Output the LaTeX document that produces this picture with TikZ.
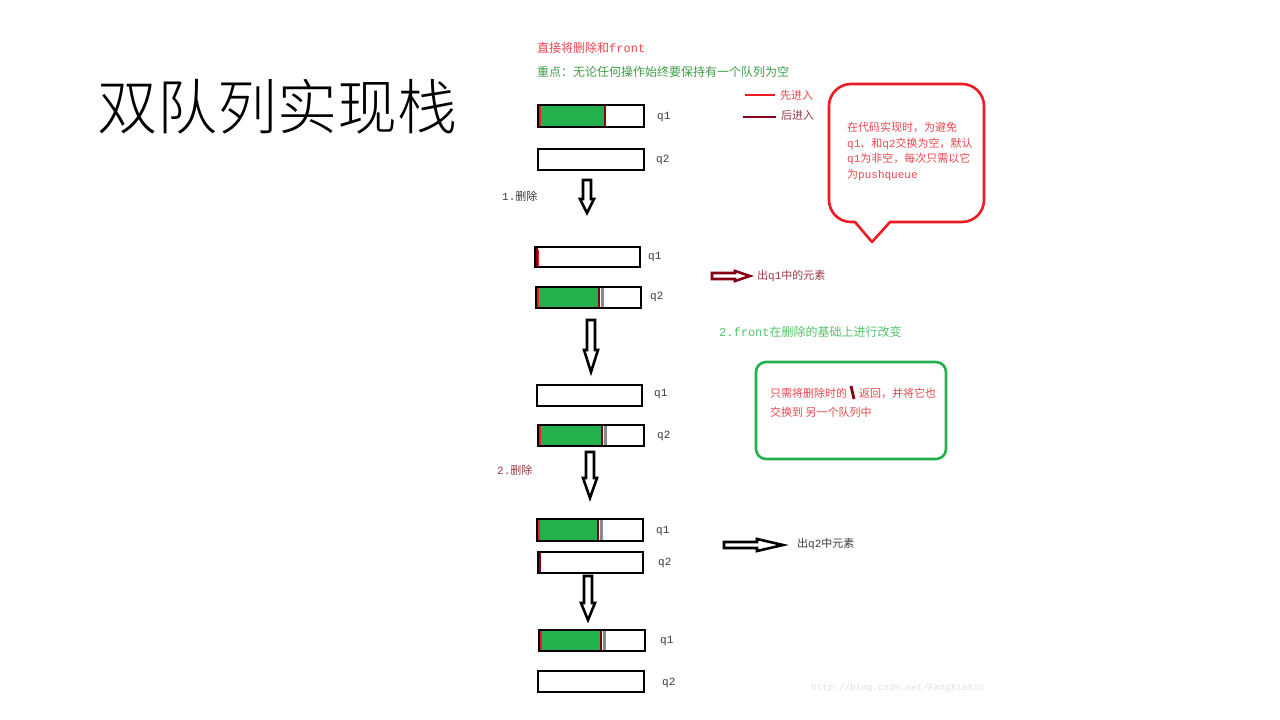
\documentclass[tikz,border=0pt]{standalone}
\usepackage{fontspec}
\setmainfont{Noto Sans CJK SC}
\newfontfamily\cjk{Noto Sans CJK SC}
\newfontfamily\cjklight{Noto Sans CJK SC Light}
\newfontfamily\lmono{Liberation Mono}
\newcommand\m[1]{{\lmono #1}}
\definecolor{qgreen}{HTML}{22B14C}
\definecolor{qred}{HTML}{ED1C24}
\definecolor{qdark}{HTML}{880015}
\definecolor{qgray}{HTML}{8A8A8A}
\definecolor{tred}{HTML}{E8474F}
\definecolor{tgreen}{HTML}{3E9E48}
\definecolor{tlgreen}{HTML}{55C46A}
\definecolor{tdred}{HTML}{9A3A44}
\definecolor{tgray}{HTML}{3A3A3A}
\newcommand\qframe[4]{\draw[line width=2.6] (#1,#2) rectangle (#3,#4);}
\newcommand\qgreenpart[5]{%
  \fill[qgreen] (#1,#2) rectangle (#5,#4);
  \draw[qred, line width=2] (#1+2,#2) -- (#1+2,#4);
  \draw[qdark, line width=2] (#5,#2) -- (#5,#4);}
\newcommand\qgraybit[3]{\draw[qgray, line width=2.2] (#1+3.5,#2) -- (#1+3.5,#3);}
\newcommand\downarr[4]{% x, ytop, ybot, headlen
  \draw[line width=2.6, line join=miter, fill=white]
   (#1-4,#2) -- (#1+4,#2) -- (#1+4,#3-#4) -- (#1+7,#3-#4) -- (#1,#3)
   -- (#1-7,#3-#4) -- (#1-4,#3-#4) -- cycle;}
\begin{document}
\begin{tikzpicture}[x=1pt,y=-1pt,
  small/.style={font=\fontsize{11}{13}\selectfont, inner sep=0pt, anchor=west},
  big/.style={font=\fontsize{12}{14}\selectfont, inner sep=0pt, anchor=west},
  qlab/.style={small, text=tgray}]
\useasboundingbox[fill=white] (0,0) rectangle (1280,720);

% title
\node[font=\cjklight\fontsize{60}{66}\selectfont, anchor=west, inner sep=0pt] (title) at (97,107) {双队列实现栈};

% top texts
\node[big, text=tred] (t1) at (537,48) {直接将删除和\m{front}};
\node[big, text=tgreen] (t2) at (537,72) {重点：无论任何操作始终要保持有一个队列为空};

% legend
\draw[qred, line width=2.4] (745,95) -- (775,95);
\node[small, text=tred] (l1) at (780,95) {先进入};
\draw[qdark, line width=2.4] (743,117) -- (776,117);
\node[small, text=tdred] (l2) at (781,115) {后进入};

% step 0
\qgreenpart{538}{105}{644}{127}{605}
\qframe{538}{105}{644}{127}
\node[qlab] (a1) at (657,117) {\m{q1}};
\qframe{538}{149}{644}{170}
\node[qlab] (a2) at (656,160) {\m{q2}};

\downarr{587}{180}{213}{14}
\node[small, text=tgray] (s1) at (502,196) {\m{1.}删除};

% step 1
\qframe{535}{247}{640}{267}
\draw[qdark, line width=2] (537,248) -- (537,266);
\draw[qred, line width=1] (538.5,250) -- (538.5,266);
\node[qlab] (b1) at (648,257) {\m{q1}};
\qgreenpart{536}{287}{641}{308}{599}
\qgraybit{599}{288}{307}
\qframe{536}{287}{641}{308}
\node[qlab] (b2) at (650,297) {\m{q2}};

\downarr{591}{320}{372}{22}

% step 2
\qframe{537}{385}{642}{406}
\node[qlab] (c1) at (654,394) {\m{q1}};
\qgreenpart{538}{425}{644}{446}{602}
\qgraybit{602}{426}{445}
\qframe{538}{425}{644}{446}
\node[qlab] (c2) at (657,436) {\m{q2}};

\downarr{590}{452}{498}{20}
\node[small, text=tdred] (s2) at (497,470) {\m{2.}删除};

% step 3
\qgreenpart{537}{519}{643}{541}{598}
\qgraybit{598}{520}{540}
\qframe{537}{519}{643}{541}
\node[qlab] (d1) at (656,531) {\m{q1}};
\draw[qdark, line width=2] (540,553) -- (540,572);
\qframe{538}{552}{643}{573}
\node[qlab] (d2) at (658,563) {\m{q2}};

\downarr{588}{576}{620}{17}

% step 4
\qgreenpart{539}{630}{645}{651}{601}
\qgraybit{601}{631}{650}
\qframe{539}{630}{645}{651}
\node[qlab] (e1) at (660,641) {\m{q1}};
\qframe{538}{671}{644}{692}
\node[qlab] (e2) at (662,683) {\m{q2}};

% callout
\draw[qred, line width=2.6, line join=round]
  (872,242) -- (855,222) [rounded corners=22] -- (829,222) -- (829,84) -- (984,84) -- (984,222) [sharp corners] -- (890,222) -- cycle;
\node[small, text=tred, align=left, anchor=north west,
      font=\fontsize{11}{15.5}\selectfont] (callout) at (847,122)
  {在代码实现时，为避免\\\m{q1}、和\m{q2}交换为空，默认\\\m{q1}为非空，每次只需以它\\为\m{pushqueue}};

% right arrow 1
\draw[qdark, line width=2.6, line join=miter]
  (712,273) -- (735,273) -- (735,271) -- (750,276) -- (735,281) -- (735,279) -- (712,279) -- cycle;
\node[small, text=tdred] (o1) at (757,276) {出\m{q1}中的元素};

\node[big, text=tlgreen] (t3) at (719,332) {\m{2.front}在删除的基础上进行改变};

% green box
\draw[qgreen, line width=2.6, rounded corners=10] (756,362) rectangle (946,459);
\node[small, text=tred] (g1) at (770,393) {只需将删除时的};
\draw[qdark, line width=2.8] (851,386) -- (854,399);
\node[small, text=tred] (g2) at (859,393) {返回，并将它也};
\node[small, text=tred] (g3) at (770,412) {交换到 另一个队列中};

% right arrow 2
\draw[line width=2.6, line join=miter]
  (724,542) -- (757,542) -- (757,539) -- (783,545) -- (757,551) -- (757,548) -- (724,548) -- cycle;
\node[small, text=tgray] (o2) at (797,544) {出\m{q2}中元素};

% watermark
\node[small, text=black!12, font=\lmono\fontsize{9.3}{11}\selectfont] (wm) at (811,688) {http://blog.csdn.net/FangXiaXin};
\end{tikzpicture}
\end{document}
